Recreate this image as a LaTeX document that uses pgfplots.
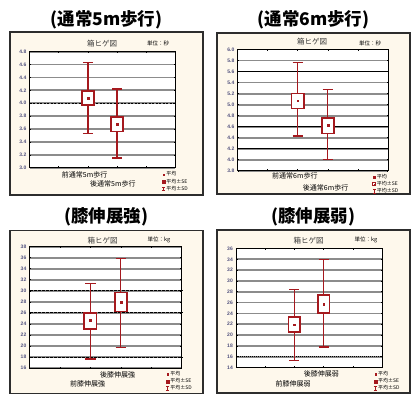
\documentclass[border=0pt]{standalone}
\usepackage{pgfplots}
\pgfplotsset{compat=1.18}
\usepackage{fontspec}
\setmainfont{Liberation Sans}
\newfontfamily\cjk{Noto Sans CJK JP}
\definecolor{boxred}{RGB}{165,25,30}
\definecolor{cream}{RGB}{254,248,236}
\definecolor{ticklab}{RGB}{80,80,125}
\definecolor{gridgray}{RGB}{140,140,140}
\definecolor{framegray}{RGB}{45,45,45}

\pgfplotsset{
  panel/.style={
    scale only axis,
    xmin=0, xmax=5, xtick={1,2,3,4}, xticklabels={},
    tick align=inside, major tick length=1.5pt,
    ymajorgrids, grid style={gridgray, line width=1.8pt},
    axis line style={black, line width=0.9pt},
    axis background/.style={fill=white},
    yticklabel style={font=\bfseries\fontsize{5}{6}\selectfont, text=ticklab, inner sep=0pt, xshift=-3pt},
    /pgf/number format/assume math mode=true,
    tick style={black, line width=0.6pt},
    legend style={draw=none, fill=none, font=\cjk\fontsize{5}{6}\selectfont,
      anchor=north west, row sep=0pt, nodes={inner sep=0.7pt}, cells={anchor=west}},
  },
  onedec/.style={yticklabel style={/pgf/number format/.cd, fixed, fixed zerofill, precision=1}},
  blackgrid/.style={extra y tick labels={}, extra y tick style={grid=major, major tick length=0pt, major grid style={black, line width=0.8pt, #1}}},
  whisk/.style={boxred, line width=1.2pt, forget plot},
  sebox/.style={boxred, line width=1.6pt, fill=white, forget plot},
  meanmk/.style={only marks, mark=square*, mark size=0.9pt, boxred, forget plot},
}

\newcommand\leg{%
  \addlegendimage{legend image code/.code={\fill[boxred] (0.8pt,-0.8pt) rectangle (2.2pt,0.8pt);}}
  \addlegendentry{平均}
  \addlegendimage{legend image code/.code={\draw[boxred, line width=0.8pt, fill=white] (0pt,-1.5pt) rectangle (3pt,1.5pt); \fill[boxred] (1.1pt,-0.4pt) rectangle (1.9pt,0.4pt);}}
  \addlegendentry{平均±SE}
  \addlegendimage{legend image code/.code={\draw[boxred, line width=0.8pt] (1.5pt,-1.8pt) -- (1.5pt,1.8pt) (0pt,1.8pt) -- (3pt,1.8pt) (0pt,-1.8pt) -- (3pt,-1.8pt);}}
  \addlegendentry{平均±SD}
}

\begin{document}
\begin{tikzpicture}[x=1pt,y=1pt]
\useasboundingbox (0,0) rectangle (414,394);
\fill[white] (0,0) rectangle (414,394);

% frames
\draw[framegray, line width=1.4pt, fill=cream] (10,362) rectangle (203,199);
\draw[framegray, line width=1.4pt, fill=cream] (217,361) rectangle (410,200);
\draw[framegray, line width=1.4pt, fill=cream] (10,163.7) rectangle (203,0.7);
\draw[framegray, line width=1.4pt, fill=cream] (217,164) rectangle (410,1);

% titles
\node[font=\cjk\bfseries\fontsize{17.5}{19}\selectfont] at (106.5,374) {(通常5m歩行)};
\node[font=\cjk\bfseries\fontsize{17.5}{19}\selectfont] at (313.5,374) {(通常6m歩行)};
\node[font=\cjk\bfseries\fontsize{17.5}{19}\selectfont] at (106,177) {(膝伸展強)};
\node[font=\cjk\bfseries\fontsize{17.5}{19}\selectfont] at (313,177) {(膝伸展弱)};

% inner headers
\node[font=\cjk\fontsize{7.5}{8}\selectfont, text=black!80] at (102,350.7) {箱ヒゲ図};
\node[font=\cjk\fontsize{5.5}{6}\selectfont] at (158,351) {単位：秒};
\node[font=\cjk\fontsize{7.5}{8}\selectfont, text=black!80] at (312,352) {箱ヒゲ図};
\node[font=\cjk\fontsize{5.5}{6}\selectfont] at (370,351) {単位：秒};
\node[font=\cjk\fontsize{7.5}{8}\selectfont, text=black!80] at (102.7,153.7) {箱ヒゲ図};
\node[font=\cjk\fontsize{5.5}{6}\selectfont] at (159,154) {単位：kg};
\node[font=\cjk\fontsize{7.5}{8}\selectfont, text=black!80] at (308.7,153.7) {箱ヒゲ図};
\node[font=\cjk\fontsize{5.5}{6}\selectfont] at (366,154) {単位：kg};

% x labels
\node[font=\cjk\fontsize{7}{8}\selectfont, anchor=west, inner sep=0pt] at (61.7,219) {前通常5m歩行};
\node[font=\cjk\fontsize{7}{8}\selectfont, anchor=west, inner sep=0pt] at (90,209.7) {後通常5m歩行};
\node[font=\cjk\fontsize{7}{8}\selectfont, anchor=west, inner sep=0pt] at (272,218.3) {前通常6m歩行};
\node[font=\cjk\fontsize{7}{8}\selectfont, anchor=west, inner sep=0pt] at (302.7,205.7) {後通常6m歩行};
\node[font=\cjk\fontsize{7}{8}\selectfont, anchor=west, inner sep=0pt] at (100,19.3) {後膝伸展強};
\node[font=\cjk\fontsize{7}{8}\selectfont, anchor=west, inner sep=0pt] at (70,9.7) {前膝伸展強};
\node[font=\cjk\fontsize{7}{8}\selectfont, anchor=west, inner sep=0pt] at (303.7,20.3) {後膝伸展弱};
\node[font=\cjk\fontsize{7}{8}\selectfont, anchor=west, inner sep=0pt] at (275.3,9.7) {前膝伸展弱};

% ---------- Panel 1 ----------
\begin{axis}[panel, onedec, at={(29.5pt,342.3pt)}, anchor=north west, width=146pt, height=116pt,
  ymin=3.0, ymax=4.8, ytick={3.0,3.2,3.4,3.6,3.8,4.0,4.2,4.4,4.6,4.8},
  extra y ticks={4.0}, blackgrid={dash pattern=on 2pt off 1.5pt},
  legend style={at={(0.885,-0.01)}}]
\addplot[whisk] coordinates {(2,3.535) (2,4.63)};
\addplot[whisk] coordinates {(1.83,4.63) (2.17,4.63)};
\addplot[whisk] coordinates {(1.83,3.535) (2.17,3.535)};
\addplot[sebox] coordinates {(1.8,3.97) (2.2,3.97) (2.2,4.19) (1.8,4.19)} --cycle;
\addplot[meanmk] coordinates {(2,4.08)};
\addplot[whisk] coordinates {(3,3.15) (3,4.22)};
\addplot[whisk] coordinates {(2.83,4.22) (3.17,4.22)};
\addplot[whisk] coordinates {(2.83,3.15) (3.17,3.15)};
\addplot[sebox] coordinates {(2.8,3.56) (3.2,3.56) (3.2,3.79) (2.8,3.79)} --cycle;
\addplot[meanmk] coordinates {(3,3.68)};
\leg
\end{axis}

% ---------- Panel 2 ----------
\begin{axis}[panel, onedec, at={(237.5pt,344.5pt)}, anchor=north west, width=150.5pt, height=121.3pt,
  ymin=3.8, ymax=6.0, ytick={3.8,4.0,4.2,4.4,4.6,4.8,5.0,5.2,5.4,5.6,5.8,6.0},
  extra y ticks={4.2,4.6,5.6}, blackgrid={},
  legend style={at={(0.875,-0.005)}}]
\addplot[whisk] coordinates {(2,4.43) (2,5.76)};
\addplot[whisk] coordinates {(1.83,5.76) (2.17,5.76)};
\addplot[whisk] coordinates {(1.83,4.43) (2.17,4.43)};
\addplot[sebox] coordinates {(1.8,4.93) (2.2,4.93) (2.2,5.20) (1.8,5.20)} --cycle;
\addplot[meanmk] coordinates {(2,5.07)};
\addplot[whisk] coordinates {(3,4.0) (3,5.27)};
\addplot[whisk] coordinates {(2.83,5.27) (3.17,5.27)};
\addplot[whisk] coordinates {(2.83,4.0) (3.17,4.0)};
\addplot[sebox] coordinates {(2.8,4.48) (3.2,4.48) (3.2,4.76) (2.8,4.76)} --cycle;
\addplot[meanmk] coordinates {(3,4.63)};
\leg
\end{axis}

% ---------- Panel 3 ----------
\begin{axis}[panel, at={(29.5pt,147.3pt)}, anchor=north west, width=152.2pt, height=121.3pt,
  ymin=16, ymax=38, ytick={16,18,20,22,24,26,28,30,32,34,36,38},
  extra y ticks={18,26,30}, blackgrid={dash pattern=on 3pt off 1pt},
  legend style={at={(0.875,-0.005)}}]
\addplot[whisk] coordinates {(2,17.63) (2,31.37)};
\addplot[whisk] coordinates {(1.83,31.37) (2.17,31.37)};
\addplot[whisk] coordinates {(1.83,17.63) (2.17,17.63)};
\addplot[sebox] coordinates {(1.8,23.05) (2.2,23.05) (2.2,25.94) (1.8,25.94)} --cycle;
\addplot[meanmk] coordinates {(2,24.6)};
\addplot[whisk] coordinates {(3,19.74) (3,35.89)};
\addplot[whisk] coordinates {(2.83,35.89) (3.17,35.89)};
\addplot[whisk] coordinates {(2.83,19.74) (3.17,19.74)};
\addplot[sebox] coordinates {(2.8,26.25) (3.2,26.25) (3.2,29.68) (2.8,29.68)} --cycle;
\addplot[meanmk] coordinates {(3,28.0)};
\leg
\end{axis}

% ---------- Panel 4 ----------
\begin{axis}[panel, at={(236pt,145.5pt)}, anchor=north west, width=146pt, height=119pt,
  ymin=14, ymax=36, ytick={14,16,18,20,22,24,26,28,30,32,34,36},
  extra y ticks={16}, blackgrid={dash pattern=on 1pt off 1pt},
  legend style={at={(0.92,-0.01)}}]
\addplot[whisk] coordinates {(2,15.34) (2,28.36)};
\addplot[whisk] coordinates {(1.83,28.36) (2.17,28.36)};
\addplot[whisk] coordinates {(1.83,15.34) (2.17,15.34)};
\addplot[sebox] coordinates {(1.8,20.54) (2.2,20.54) (2.2,23.29) (1.8,23.29)} --cycle;
\addplot[meanmk] coordinates {(2,21.9)};
\addplot[whisk] coordinates {(3,17.78) (3,33.98)};
\addplot[whisk] coordinates {(2.83,33.98) (3.17,33.98)};
\addplot[whisk] coordinates {(2.83,17.78) (3.17,17.78)};
\addplot[sebox] coordinates {(2.8,24.08) (3.2,24.08) (3.2,27.44) (2.8,27.44)} --cycle;
\addplot[meanmk] coordinates {(3,25.73)};
\leg
\end{axis}
\end{tikzpicture}
\end{document}
